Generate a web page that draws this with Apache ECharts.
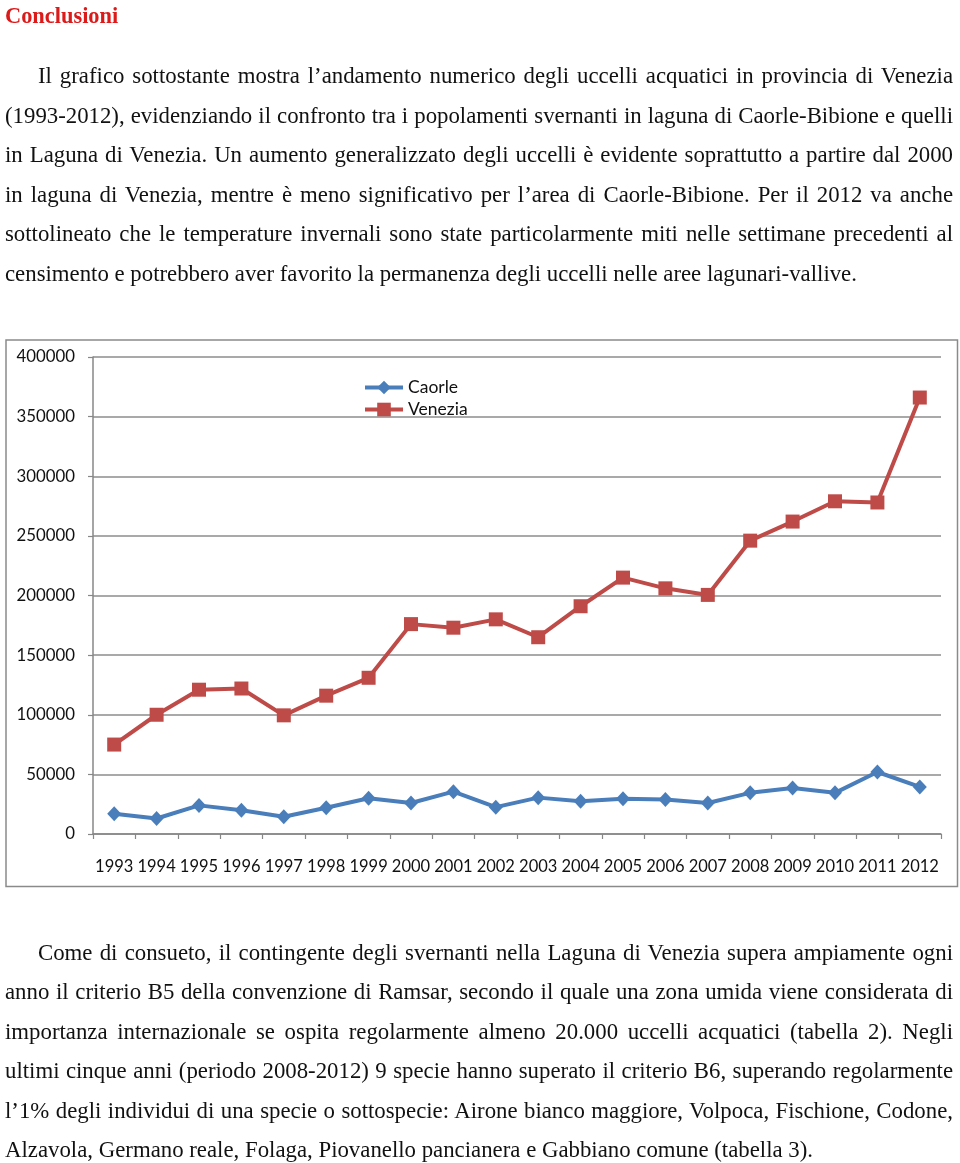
<!DOCTYPE html>
<html>
<head>
<meta charset="utf-8">
<script src="https://cdn.jsdelivr.net/npm/echarts@6/dist/echarts.min.js"></script>
<style>
html,body{margin:0;padding:0;background:#fff;}
#page{position:relative;width:960px;height:1163px;overflow:hidden;background:#fff;}
#chart{position:absolute;left:0;top:0;width:960px;height:1163px;}
.ln{position:absolute;white-space:nowrap;font-family:"Liberation Serif","Times New Roman",serif;font-size:22.8px;line-height:26px;color:#111;z-index:2;}
.ln span{display:inline-block;transform-origin:0 0;}
.ttl{font-weight:bold;color:#dc1a1a;font-size:22.4px;}
</style>
</head>
<body>
<div id="page"><div id="chart"></div></div>
<script>
// ---- data ----
const years = ['1993','1994','1995','1996','1997','1998','1999','2000','2001','2002','2003','2004','2005','2006','2007','2008','2009','2010','2011','2012'];
const caorle = [17000,13000,24000,20000,14500,22000,30000,26000,35500,22500,30500,27500,29500,29000,26000,34500,38500,34500,52000,39500];
const venezia = [75000,100000,121000,122000,99500,116000,131000,176000,173000,180000,165000,191000,215000,206000,200500,246000,262000,279000,278000,366000];
const seriesNames = ['Caorle','Venezia'];

const titleText = 'Conclusioni';
const para1 = [
  'Il grafico sottostante mostra l\u2019andamento numerico degli uccelli acquatici in provincia di Venezia',
  '(1993-2012), evidenziando il confronto tra i popolamenti svernanti in laguna di Caorle-Bibione e quelli',
  'in Laguna di Venezia. Un aumento generalizzato degli uccelli \u00e8 evidente soprattutto a partire dal 2000',
  'in laguna di Venezia, mentre \u00e8 meno significativo per l\u2019area di Caorle-Bibione. Per il 2012 va anche',
  'sottolineato che le temperature invernali sono state particolarmente miti nelle settimane precedenti al',
  'censimento e potrebbero aver favorito la permanenza degli uccelli nelle aree lagunari-vallive.'
];
const para2 = [
  'Come di consueto, il contingente degli svernanti nella Laguna di Venezia supera ampiamente ogni',
  'anno il criterio B5 della convenzione di Ramsar, secondo il quale una zona umida viene considerata di',
  'importanza internazionale se ospita regolarmente almeno 20.000 uccelli acquatici (tabella 2). Negli',
  'ultimi cinque anni (periodo 2008-2012) 9 specie hanno superato il criterio B6, superando regolarmente',
  'l\u20191% degli individui di una specie o sottospecie: Airone bianco maggiore, Volpoca, Fischione, Codone,',
  'Alzavola, Germano reale, Folaga, Piovanello pancianera e Gabbiano comune (tabella 3).'
];

// ---- text layout ----
const page = document.getElementById('page');
const ASC = 20.7;
function makeLine(text, left, baseline, cls) {
  const d = document.createElement('div');
  d.className = 'ln' + (cls ? ' ' + cls : '');
  d.style.left = left + 'px';
  d.style.top = (baseline - ASC) + 'px';
  const s = document.createElement('span');
  s.textContent = text;
  d.appendChild(s);
  page.appendChild(d);
  return s;
}
function layoutPara(lines, baselines, lastRight, condensedFromLast) {
  const spans = lines.map((t, i) => makeLine(t, i === 0 ? 38 : 5, baselines[i]));
  const widths = spans.map(s => s.getBoundingClientRect().width);
  let scale = 1;
  const last = lines.length - 1;
  if (condensedFromLast) scale = (lastRight - 5) / widths[last];
  spans.forEach((s, i) => {
    const left = i === 0 ? 38 : 5;
    const right = i === last ? lastRight : 953;
    const target = right - left;
    const nat = widths[i] * scale;
    const nsp = (lines[i].match(/ /g) || []).length;
    if (i === last) {
      if (scale !== 1) s.style.transform = 'scaleX(' + scale + ')';
      return;
    }
    if (nat <= target && nsp) {
      s.style.wordSpacing = ((target - nat) / scale / nsp) + 'px';
      if (scale !== 1) s.style.transform = 'scaleX(' + scale + ')';
    } else {
      s.style.transform = 'scaleX(' + (target / widths[i]) + ')';
    }
  });
}
makeLine(titleText, 5, 24, 'ttl');
layoutPara(para1, [84, 123.5, 163, 202.5, 242, 281.5], 858, false);
layoutPara(para2, [960.5, 1000, 1039.5, 1079, 1118.5, 1158], 813, true);

// ---- chart ----
const chart = echarts.init(document.getElementById('chart'), null, {renderer: 'canvas'});
const gray = '#878787';
const option = {
  animation: false,
  backgroundColor: '#fff',
  textStyle: {fontFamily: 'Lato'},
  graphic: [{
    type: 'rect', silent: true, z: 0,
    shape: {x: 6, y: 340, width: 951.5, height: 546.5},
    style: {fill: 'none', stroke: '#8a8a8a', lineWidth: 1.5}
  }],
  grid: {left: 93, top: 357, width: 848, height: 477},
  legend: {
    orient: 'vertical', left: 363, top: 378.5, padding: 0,
    itemWidth: 38, itemHeight: 17, itemGap: 4,
    lineStyle: {width: 4},
    textStyle: {fontSize: 17.5, color: '#111', fontFamily: 'Lato'},
    data: seriesNames
  },
  xAxis: {
    type: 'category', data: years, boundaryGap: true,
    axisLine: {lineStyle: {color: gray, width: 1.5}},
    axisTick: {show: true, length: 5, lineStyle: {color: gray, width: 1.2}},
    axisLabel: {fontSize: 16.5, color: '#111', margin: 24, interval: 0, fontFamily: 'Lato'}
  },
  yAxis: {
    type: 'value', min: 0, max: 400000, interval: 50000,
    axisLine: {show: true, lineStyle: {color: gray, width: 1.5}},
    axisTick: {show: true, length: 5, lineStyle: {color: gray, width: 1.2}},
    splitLine: {lineStyle: {color: '#8c8c8c', width: 1.5}},
    axisLabel: {fontSize: 16.8, color: '#111', margin: 18, fontFamily: 'Lato', formatter: v => String(v)}
  },
  series: [
    {
      name: seriesNames[0], type: 'line', data: caorle,
      symbol: 'diamond', symbolSize: [14, 15],
      lineStyle: {width: 4, color: '#4a7ebb'},
      itemStyle: {color: '#4a7ebb'}
    },
    {
      name: seriesNames[1], type: 'line', data: venezia,
      symbol: 'rect', symbolSize: 14,
      lineStyle: {width: 4, color: '#be4b48'},
      itemStyle: {color: '#be4b48'}
    }
  ]
};
chart.setOption(option);
</script>
</body>
</html>
